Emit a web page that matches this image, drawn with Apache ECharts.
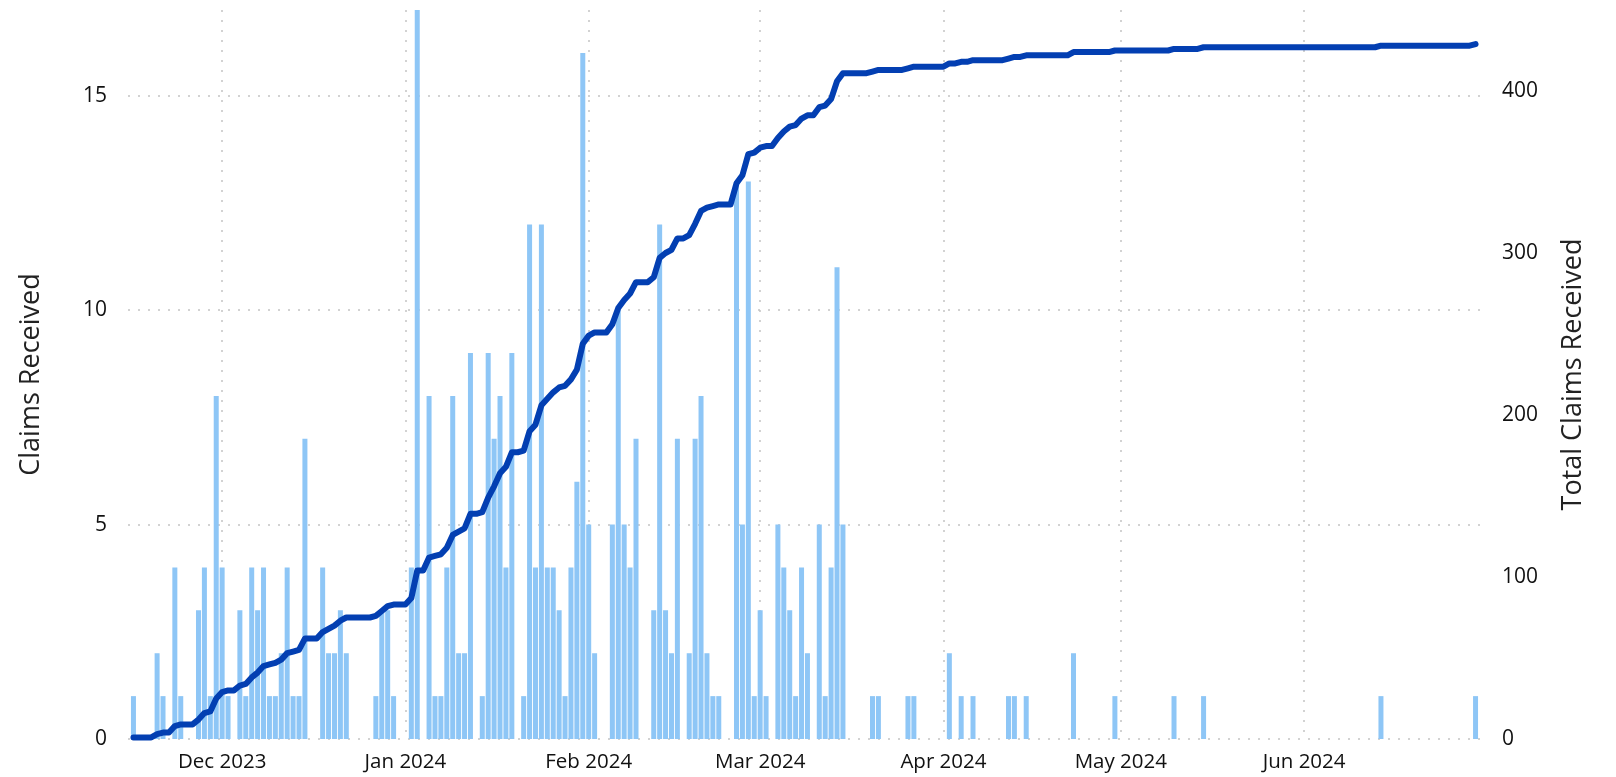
<!DOCTYPE html>
<html>
<head>
<meta charset="utf-8">
<script src="https://cdn.jsdelivr.net/npm/echarts@6/dist/echarts.min.js"></script>
<style>
html, body { margin: 0; padding: 0; background: #ffffff; }
#chart { width: 1616px; height: 777px; }
</style>
</head>
<body>
<div id="chart"></div>
<script>
// ---- data ----
const rangeStart = '2023-11-16';
const rangeEnd = '2024-06-30';
const claimDates = [
  '2023-11-16','2023-11-20','2023-11-21','2023-11-23','2023-11-24','2023-11-27','2023-11-28','2023-11-29','2023-11-30',
  '2023-12-01','2023-12-02','2023-12-04','2023-12-05','2023-12-06','2023-12-07','2023-12-08','2023-12-09','2023-12-10',
  '2023-12-11','2023-12-12','2023-12-13','2023-12-14','2023-12-15','2023-12-18','2023-12-19','2023-12-20','2023-12-21',
  '2023-12-22','2023-12-27','2023-12-28','2023-12-29','2023-12-30',
  '2024-01-02','2024-01-03','2024-01-05','2024-01-06','2024-01-07','2024-01-08','2024-01-09','2024-01-10','2024-01-11',
  '2024-01-12','2024-01-14','2024-01-15','2024-01-16','2024-01-17','2024-01-18','2024-01-19','2024-01-21','2024-01-22',
  '2024-01-23','2024-01-24','2024-01-25','2024-01-26','2024-01-27','2024-01-28','2024-01-29','2024-01-30','2024-01-31',
  '2024-02-01','2024-02-02','2024-02-05','2024-02-06','2024-02-07','2024-02-08','2024-02-09','2024-02-12','2024-02-13',
  '2024-02-14','2024-02-15','2024-02-16','2024-02-18','2024-02-19','2024-02-20','2024-02-21','2024-02-22','2024-02-23',
  '2024-02-26','2024-02-27','2024-02-28','2024-02-29',
  '2024-03-01','2024-03-02','2024-03-04','2024-03-05','2024-03-06','2024-03-07','2024-03-08','2024-03-09','2024-03-11',
  '2024-03-12','2024-03-13','2024-03-14','2024-03-15','2024-03-20','2024-03-21','2024-03-26','2024-03-27',
  '2024-04-02','2024-04-04','2024-04-06','2024-04-12','2024-04-13','2024-04-15','2024-04-23','2024-04-30',
  '2024-05-10','2024-05-15','2024-06-14','2024-06-30'
];
const claimCounts = [
  1,2,1,4,1,3,4,1,8,
  4,1,3,1,4,3,4,1,1,
  2,4,1,1,7,4,2,2,3,
  2,1,3,3,1,
  4,17,8,1,1,4,8,2,2,
  9,1,9,7,8,4,9,1,12,
  4,12,4,4,3,1,4,6,16,
  5,2,5,10,5,4,7,3,12,
  3,2,7,2,7,8,2,1,1,
  13,5,13,1,
  3,1,5,4,3,1,4,2,5,
  1,4,11,5,1,1,1,1,
  2,1,1,1,1,1,2,1,
  1,1,1,1
];
const monthNames = ['Jan','Feb','Mar','Apr','May','Jun','Jul','Aug','Sep','Oct','Nov','Dec'];
const leftTicks = [0, 5, 10, 15];
const rightTicks = [0, 100, 200, 300, 400];

// ---- build series ----
const DAY = 86400000;
function toMs(s) { const p = s.split('-').map(Number); return Date.UTC(p[0], p[1]-1, p[2]); }
const countByDay = {};
claimDates.forEach((d, i) => { countByDay[toMs(d)] = claimCounts[i]; });
const startMs = toMs(rangeStart), endMs = toMs(rangeEnd);
const barData = claimDates.map((d, i) => [toMs(d), claimCounts[i]]);
const cumData = [];
let running = 0;
for (let t = startMs; t <= endMs; t += DAY) {
  running += (countByDay[t] || 0);
  cumData.push([t, running]);
}

const FONT = 'Open Sans';
const dotStyle = { type: [2, 8], color: '#c4c4c4', width: 1.5 };

const chart = echarts.init(document.getElementById('chart'), null, { renderer: 'canvas' });
chart.setOption({
  animation: false,
  useUTC: true,
  grid: { left: 128, right: 135, top: 10, bottom: 38, containLabel: false },
  xAxis: {
    type: 'time',
    min: startMs - DAY / 2,
    max: endMs + DAY / 2,
    minInterval: 28 * DAY,
    maxInterval: 31 * DAY,
    splitNumber: 7,
    axisLine: { show: false },
    axisTick: { show: false },
    splitLine: { show: true, showMinLine: false, showMaxLine: false, lineStyle: dotStyle },
    axisLabel: {
      fontFamily: FONT, fontSize: 20.5, color: '#111', margin: 13,
      hideOverlap: false,
      formatter: function (v) {
        const d = new Date(v);
        return monthNames[d.getUTCMonth()] + ' ' + d.getUTCFullYear();
      }
    }
  },
  yAxis: [
    {
      type: 'value', position: 'left', min: 0, max: 17, interval: 5,
      name: 'Claims Received', nameLocation: 'middle', nameRotate: 90, nameGap: 83,
      nameTextStyle: { fontFamily: FONT, fontSize: 27, color: '#222' },
      axisLine: { show: false }, axisTick: { show: false },
      axisLabel: {
        fontFamily: FONT, fontSize: 21, color: '#111', margin: 21, showMaxLabel: false,
        formatter: v => (leftTicks.indexOf(v) >= 0 ? String(v) : '')
      },
      splitLine: { show: true, showMaxLine: false, lineStyle: dotStyle }
    },
    {
      type: 'value', position: 'right', min: 0, max: 450, interval: 100,
      name: 'Total Claims Received', nameLocation: 'middle', nameRotate: 90, nameGap: 79,
      nameTextStyle: { fontFamily: FONT, fontSize: 27, color: '#222' },
      axisLine: { show: false }, axisTick: { show: false },
      axisLabel: {
        fontFamily: FONT, fontSize: 21, color: '#111', margin: 21, showMaxLabel: false,
        formatter: v => (rightTicks.indexOf(v) >= 0 ? String(v) : '')
      },
      splitLine: { show: false }
    }
  ],
  series: [
    {
      type: 'bar', name: 'Claims Received', yAxisIndex: 0,
      data: barData, barWidth: 5,
      itemStyle: { color: '#8ec6f6' },
      z: 2
    },
    {
      type: 'line', name: 'Total Claims Received', yAxisIndex: 1,
      data: cumData, showSymbol: false, smooth: false,
      lineStyle: { color: '#033fb2', width: 6, cap: 'round', join: 'round' },
      z: 3
    }
  ]
});
</script>
</body>
</html>
